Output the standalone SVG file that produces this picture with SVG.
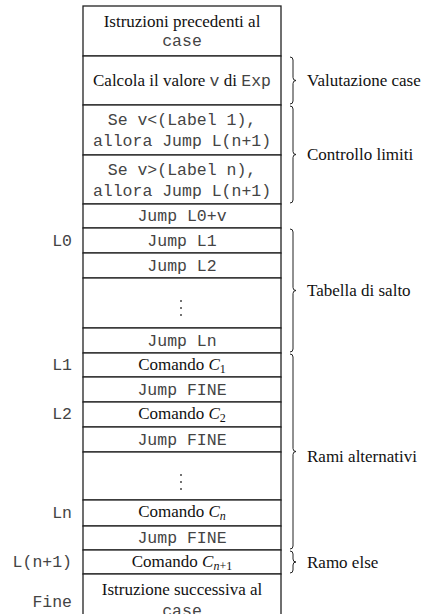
<svg xmlns="http://www.w3.org/2000/svg" width="423" height="614" viewBox="0 0 423 614">
  <style>
    .cell { fill: #fff; stroke: #222; stroke-width: 1.3; }
    .serif { font-family: "Liberation Serif", "Times New Roman", serif; font-size: 17px; fill: #111; }
    .mono { font-family: "Liberation Mono", "Courier New", monospace; font-size: 16.5px; fill: #444; }
    .c { text-anchor: middle; }
    .lab { text-anchor: end; }
    .brace { fill: none; stroke: #222; stroke-width: 1; }
    .dot { fill: #444; }
    .it { font-style: italic; }
    .sub { font-size: 12px; }
  </style>
  <rect width="423" height="614" fill="#fff"/>

  <g id="cells">
    <g id="n-prev"><rect class="cell" x="83" y="6" width="198" height="50"/>
      <text class="serif c" x="182" y="27">Istruzioni precedenti al</text>
      <text class="mono c" x="182" y="46">case</text></g>
    <g id="n-eval"><rect class="cell" x="83" y="56" width="198" height="49"/>
      <text class="serif c" x="182" y="86">Calcola il valore <tspan class="mono">v</tspan> di <tspan class="mono">Exp</tspan></text></g>
    <g id="n-lo"><rect class="cell" x="83" y="105" width="198" height="50"/>
      <text class="mono c" x="182" y="125">Se v&lt;(Label 1),</text>
      <text class="mono c" x="182" y="146">allora Jump L(n+1)</text></g>
    <g id="n-hi"><rect class="cell" x="83" y="155" width="198" height="49"/>
      <text class="mono c" x="182" y="175">Se v&gt;(Label n),</text>
      <text class="mono c" x="182" y="196">allora Jump L(n+1)</text></g>
    <g id="n-jmp"><rect class="cell" x="83" y="204" width="198" height="24"/>
      <text class="mono c" x="182" y="221">Jump L0+v</text></g>
    <g id="n-t1"><rect class="cell" x="83" y="228" width="198" height="25"/>
      <text class="mono c" x="182" y="246">Jump L1</text></g>
    <g id="n-t2"><rect class="cell" x="83" y="253" width="198" height="25"/>
      <text class="mono c" x="182" y="271">Jump L2</text></g>
    <g id="n-tdots"><rect class="cell" x="83" y="278" width="198" height="50"/>
      <circle class="dot" cx="181" cy="301" r="1"/><circle class="dot" cx="181" cy="308" r="1"/><circle class="dot" cx="181" cy="315" r="1"/></g>
    <g id="n-tn"><rect class="cell" x="83" y="328" width="198" height="25"/>
      <text class="mono c" x="182" y="346">Jump Ln</text></g>
    <g id="n-c1"><rect class="cell" x="83" y="353" width="198" height="24"/>
      <text class="serif c" x="182" y="370">Comando <tspan class="it">C</tspan><tspan class="sub" dy="3">1</tspan></text></g>
    <g id="n-f1"><rect class="cell" x="83" y="377" width="198" height="25"/>
      <text class="mono c" x="182" y="395">Jump FINE</text></g>
    <g id="n-c2"><rect class="cell" x="83" y="402" width="198" height="25"/>
      <text class="serif c" x="182" y="419">Comando <tspan class="it">C</tspan><tspan class="sub" dy="3">2</tspan></text></g>
    <g id="n-f2"><rect class="cell" x="83" y="427" width="198" height="25"/>
      <text class="mono c" x="182" y="445">Jump FINE</text></g>
    <g id="n-cdots"><rect class="cell" x="83" y="452" width="198" height="48"/>
      <circle class="dot" cx="181" cy="475" r="1"/><circle class="dot" cx="181" cy="482" r="1"/><circle class="dot" cx="181" cy="489" r="1"/></g>
    <g id="n-cn"><rect class="cell" x="83" y="500" width="198" height="26"/>
      <text class="serif c" x="182" y="517">Comando <tspan class="it">C</tspan><tspan class="sub it" dy="3">n</tspan></text></g>
    <g id="n-fn"><rect class="cell" x="83" y="526" width="198" height="24"/>
      <text class="mono c" x="182" y="543">Jump FINE</text></g>
    <g id="n-else"><rect class="cell" x="83" y="550" width="198" height="24"/>
      <text class="serif c" x="182" y="567">Comando <tspan class="it">C</tspan><tspan class="sub" dy="3"><tspan class="it">n</tspan>+1</tspan></text></g>
    <g id="n-next"><rect class="cell" x="83" y="574" width="198" height="60"/>
      <text class="serif c" x="182" y="595">Istruzione successiva al</text>
      <text class="mono c" x="182" y="616">case</text></g>
  </g>

  <g id="addresses" class="mono lab">
    <text x="72" y="246">L0</text>
    <text x="72" y="370">L1</text>
    <text x="72" y="419">L2</text>
    <text x="72" y="518">Ln</text>
    <text x="72" y="567">L(n+1)</text>
    <text x="72" y="607">Fine</text>
  </g>

  <g id="connectors">
    <path class="brace" d="M290,57 Q293,57 293,60 L293,77.5 Q293,80.5 296,80.5 Q293,80.5 293,83.5 L293,101 Q293,104 290,104"/>
    <path class="brace" d="M290,106 Q293,106 293,109 L293,151.5 Q293,154.5 296,154.5 Q293,154.5 293,157.5 L293,200 Q293,203 290,203"/>
    <path class="brace" d="M290,229 Q293,229 293,232 L293,287.5 Q293,290.5 296,290.5 Q293,290.5 293,293.5 L293,349 Q293,352 290,352"/>
    <path class="brace" d="M290,354 Q293,354 293,357 L293,448.5 Q293,451.5 296,451.5 Q293,451.5 293,454.5 L293,546 Q293,549 290,549"/>
    <path class="brace" d="M290,551 Q293,551 293,554 L293,559 Q293,562 296,562 Q293,562 293,565 L293,570 Q293,573 290,573"/>
  </g>

  <g id="sections" class="serif">
    <text x="307" y="86">Valutazione case</text>
    <text x="307" y="160">Controllo limiti</text>
    <text x="307" y="296">Tabella di salto</text>
    <text x="307" y="462">Rami alternativi</text>
    <text x="307" y="568">Ramo else</text>
  </g>
</svg>
